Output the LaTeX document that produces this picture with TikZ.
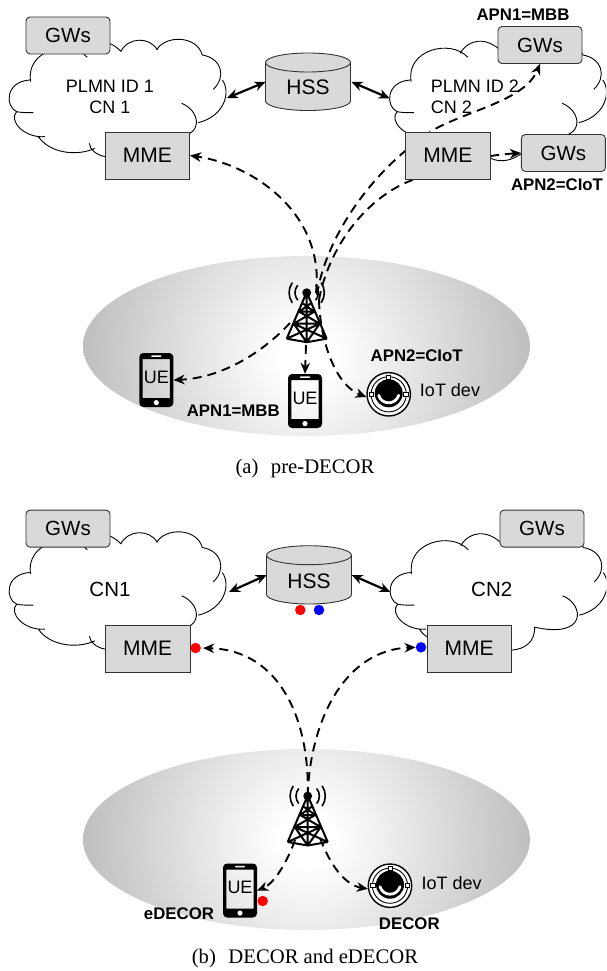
\documentclass[tikz,border=0pt]{standalone}
\usepackage{fontspec}
\setmainfont{Liberation Sans}
\newfontfamily\capfont{Liberation Serif}
\usetikzlibrary{arrows.meta}
\definecolor{boxgray}{HTML}{D9D9D9}
\definecolor{boxline}{HTML}{333333}
\pgfdeclareradialshading{bggrad}{\pgfpoint{0bp}{0bp}}{color(0bp)=(white); color(3bp)=(white); color(25bp)=(black!26); color(50bp)=(black!26)}
\tikzset{
  gwbox/.style={draw=boxline,line width=.9pt,fill=boxgray,rounded corners=4pt,minimum width=84pt,minimum height=37pt,inner sep=0pt,font=\fontsize{20.5}{22}\selectfont},
  mmebox/.style={draw=boxline,line width=.9pt,fill=boxgray,minimum width=84.5pt,minimum height=47pt,inner sep=0pt,font=\fontsize{21}{23}\selectfont},
  darrow/.style={line width=2.2pt,{Stealth[length=11pt,width=9.5pt,inset=3.5pt]}-{Stealth[length=11pt,width=9.5pt,inset=3.5pt]}},
  dasharrow/.style={line width=1.9pt,dash pattern=on 9pt off 6pt,-{Stealth[length=11pt,width=9.5pt,inset=3.5pt]}},
  cloudtext/.style={font=\fontsize{18}{20}\selectfont,inner sep=0pt},
  apn/.style={font=\bfseries\fontsize{16.8}{18}\selectfont,inner sep=0pt},
  uetext/.style={font=\fontsize{18}{20}\selectfont,inner sep=0pt},
  captext/.style={font=\capfont\fontsize{20.7}{22}\selectfont,inner sep=0pt},
  dotmark/.style={circle,minimum size=10.5pt,inner sep=0pt},
}
\newcommand{\cloudcommon}{%
  \draw[line width=.9pt]
    (239,160) .. controls (265,115) and (320,110) .. (364,155)
    (362,155) .. controls (385,110) and (450,110) .. (472,150)
    (470,150) .. controls (495,105) and (590,105) .. (607,165)
    (607,165) .. controls (665,175) and (680,230) .. (640,268)
    (667,240) .. controls (695,280) and (670,350) .. (595,368)
    (545,310) .. controls (610,335) and (620,440) .. (461,404)
    (315,470) .. controls (290,465) and (270,450) .. (268,430)
    (285,445) .. controls (230,470) and (150,460) .. (115,410)
    (135,410) .. controls (70,415) and (25,360) .. (50,335)
    (50,335) .. controls (62,338) and (80,338) .. (100,338)
    (50,335) .. controls (15,320) and (15,245) .. (89,240)
    (92,245) .. controls (75,150) and (210,115) .. (262,172);
}
\newcommand{\cloudbump}{%
  \draw[line width=.9pt] (392,473) .. controls (430,470) and (462,450) .. (461,404);
}
\newcommand{\hssdb}[4]{% name, cx, top, bottom
  \fill[boxgray] (#2-42.5,#3+9.5) -- (#2-42.5,#4-9.5) arc[start angle=180,end angle=360,x radius=42.5pt,y radius=9.5pt] -- (#2+42.5,#3+9.5) arc[start angle=0,end angle=180,x radius=42.5pt,y radius=9.5pt] -- cycle;
  \draw[boxline,line width=.9pt] (#2-42.5,#3+9.5) -- (#2-42.5,#4-9.5) arc[start angle=180,end angle=360,x radius=42.5pt,y radius=9.5pt] -- (#2+42.5,#3+9.5);
  \draw[boxline,line width=.9pt] (#2,#3+9.5) ellipse[x radius=42.5pt,y radius=9.5pt];
  \node[inner sep=0pt,font=\fontsize{21}{23}\selectfont] (#1) at (#2,#3/2+#4/2+6) {HSS};
}
\newcommand{\towermast}[3]{% name, x, y
  \begin{scope}[shift={(#2,#3)}]
    \coordinate (#1) at (0,0);
    \fill (0,0) circle[radius=4.4pt];
    \draw[line width=1.6pt]
      (0,0) ++(145:17.6pt) arc[start angle=145,end angle=215,radius=17.6pt]
      (0,0) ++(140:11.7pt) arc[start angle=140,end angle=220,radius=11.7pt]
      (0,0) ++(35:17.6pt) arc[start angle=35,end angle=-35,radius=17.6pt]
      (0,0) ++(40:11.7pt) arc[start angle=40,end angle=-40,radius=11.7pt];
    \draw[line width=2pt,line join=round]
      (-20,46) -- (-1.5,3) (20,46) -- (1.5,3)
      (-20,46) -- (0,49.5) -- (20,46)
      (-7.5,19) -- (13,31) -- (0,49.5) -- (-13,31) -- (7.5,19)
      (-7.5,19) -- (7.5,19) (-13,31) -- (13,31)
      (-20,46) -- (13,31) (20,46) -- (-13,31)
      (0,3) -- (0,49.5) (-3.5,11) -- (7.5,19) (3.5,11) -- (-7.5,19);
  \end{scope}
}
\newcommand{\phonedev}[3]{% name, cx, cy
  \begin{scope}[shift={(#2,#3)}]
    \node[minimum width=34pt,minimum height=54pt,inner sep=0pt] (#1) at (0,0) {};
    \fill[black,even odd rule,rounded corners=4pt] (-17,-27) rectangle (17,27) [sharp corners] (-13.6,-21) rectangle (13.6,18);
    \fill[white,rounded corners=.6pt] (-5,-24.6) rectangle (5,-23.1);
    \fill[white] (0,22.6) circle[radius=2.6pt];
    \node[uetext] (#1t) at (0,-3) {UE};
  \end{scope}
}
\newcommand{\iotdev}[3]{% name, cx, cy
  \begin{scope}[shift={(#2,#3)}]
    \node[circle,minimum size=43.4pt,inner sep=0pt,draw=black,line width=1.4pt,fill=white] (#1) at (0,0) {};
    \draw[line width=.9pt] (0,0) circle[radius=17.6pt];
    \fill (0,-1) circle[radius=14pt];
    \draw[white,line width=2.8pt,line cap=round] (-10,1) .. controls (-7,11) and (7,11) .. (10,1);
    \fill[white] (-19.5,-2) rectangle (-15,2) (19.5,-2) rectangle (15,2) (-2,-19.5) rectangle (2,-15);
    \draw[line width=.6pt] (-19.5,-2) rectangle (-15,2) (19.5,-2) rectangle (15,2) (-2,-19.5) rectangle (2,-15);
  \end{scope}
}
\begin{document}
\begin{tikzpicture}[x=1pt,y=-1pt]
\useasboundingbox (0,0) rectangle (606,971);
\clip (0,0) rectangle (606,971);

%% ---------- (a) ----------
\begin{scope}\clip (306.5,346) ellipse[x radius=223.5pt,y radius=90pt];
  \path[shading=bggrad] (76.5,126) rectangle (536.5,586);
\end{scope}
\begin{scope}[x=.3333pt,y=-.3333pt]\cloudcommon\end{scope}
\begin{scope}[shift={(380.5,0)}]\begin{scope}[x=.3333pt,y=-.3333pt]\cloudcommon\end{scope}\end{scope}
\draw[line width=.9pt] (490,158) .. controls (500,163) and (512,161) .. (522,153);

\towermast{towA}{306.7}{292.7}
\phonedev{ueA}{156.3}{380}
\phonedev{ueB}{305}{401}
\iotdev{iotA}{388.7}{394.3}

\coordinate (cA1) at (227,98);
\coordinate (hA1) at (265.5,82);
\coordinate (hA2) at (351.5,82);
\coordinate (cA2) at (389.7,98.3);
\coordinate (towA1) at (316,293);
\coordinate (towA2) at (317,295);
\coordinate (towA3) at (319,300);
\coordinate (towA4) at (290,323);
\coordinate (towA5) at (306,345);
\coordinate (bendA1) at (435,129);
\coordinate (bendA2) at (418,178);

\node[mmebox] (mmeA1) at (147.3,155.5) {MME};
\node[gwbox] (gwA1) at (68,35.5) {GWs};
\node[gwbox] (gwA2) at (540,45) {GWs};
\node[gwbox] (gwA3) at (563.4,153) {GWs};

\draw[dasharrow] (towA2) .. controls (325,240) and (370,170) .. (bendA1) .. controls (470,110) and (525,100) .. (gwA2.south);
\draw[dasharrow] (towA3) .. controls (328,250) and (365,195) .. (bendA2) .. controls (460,160) and (490,155) .. (gwA3.west);
\node[mmebox] (mmeA2) at (447.8,155.5) {MME};

\draw[dasharrow] (towA1) .. controls (325,215) and (255,165) .. (mmeA1.east);
\draw[dasharrow] (towA4) .. controls (260,355) and (220,378) .. (ueA.east);
\draw[dasharrow] (towA5) -- (ueB.north);
\draw[dasharrow] (towA3) .. controls (320,340) and (335,385) .. (iotA.187);

\hssdb{hssA}{308}{53}{110.5}
\draw[darrow] (cA1) -- (hA1);
\draw[darrow] (hA2) -- (cA2);

\node[cloudtext] (t1) at (110,86) {PLMN ID 1};
\node[cloudtext] (t2) at (110,107) {CN 1};
\node[cloudtext,anchor=west] (t3) at (430.7,86) {PLMN ID 2};
\node[cloudtext,anchor=west] (t4) at (430.7,107) {CN 2};
\node[apn] (l1) at (523,15) {APN1=MBB};
\node[apn] (l2) at (557,185) {APN2=CIoT};
\node[apn] (l3) at (416.7,355.7) {APN2=CIoT};
\node[apn] (l4) at (233.3,410.7) {APN1=MBB};
\node[cloudtext] (l5) at (450,390) {IoT dev};
\node[captext] (capA) at (305,468.3) {(a)\hspace{.6em}pre-DECOR};

%% ---------- (b) ----------
\begin{scope}\clip (306.5,839.5) ellipse[x radius=223.5pt,y radius=90.5pt];
  \path[shading=bggrad] (76.5,609.5) rectangle (536.5,1069.5);
\end{scope}
\begin{scope}[shift={(0,492.5)}]\begin{scope}[x=.3333pt,y=-.3333pt]\cloudcommon\end{scope}\end{scope}
\begin{scope}[shift={(381,492.5)}]\begin{scope}[x=.3333pt,y=-.3333pt]\cloudcommon\cloudbump\end{scope}\end{scope}

\towermast{towB}{307.7}{796}
\phonedev{ueC}{240}{890.5}
\iotdev{iotB}{390}{885.7}

\node[mmebox] (mmeB1) at (147.7,648.6) {MME};
\node[mmebox] (mmeB2) at (469.2,648.6) {MME};
\node[gwbox] (gwB1) at (68,528.6) {GWs};
\node[gwbox] (gwB2) at (542,528.6) {GWs};
\hssdb{hssB}{309}{545.7}{604}

\node[dotmark,fill=red] (dotR) at (195.6,648) {};
\node[dotmark,fill=blue] (dotB) at (421,647.3) {};
\node[dotmark,fill=red] (dotR2) at (300.3,610) {};
\node[dotmark,fill=blue] (dotB2) at (319,610) {};
\node[dotmark,fill=red] (dotR3) at (262.7,901) {};

\coordinate (cB1) at (229,592);
\coordinate (hB1) at (266.7,575);
\coordinate (hB2) at (351.7,575);
\coordinate (cB2) at (390.4,592);
\coordinate (towB1) at (295,840);
\coordinate (towB2) at (320,838);
\draw[darrow] (cB1) -- (hB1);
\draw[darrow] (hB2) -- (cB2);
\draw[dasharrow,shorten >=2pt] (towB) .. controls (310,720) and (280,650) .. (dotR.east);
\draw[dasharrow] (towB) .. controls (310,720) and (345,650) .. (dotB.west);
\draw[dasharrow] (towB1) .. controls (288,860) and (275,883) .. (ueC.east);
\draw[dasharrow] (towB2) .. controls (330,865) and (345,885) .. (iotB.188);

\node[cloudtext,font=\fontsize{20.5}{22}\selectfont] (t5) at (110,589) {CN1};
\node[cloudtext,font=\fontsize{20.5}{22}\selectfont] (t6) at (491.7,589) {CN2};
\node[apn] (l6) at (179,913.3) {eDECOR};
\node[apn] (l7) at (409.3,923.3) {DECOR};
\node[cloudtext] (l8) at (451.7,883) {IoT dev};
\node[captext] (capB) at (305,958.3) {(b)\hspace{.6em}DECOR and eDECOR};
\end{tikzpicture}
\end{document}
